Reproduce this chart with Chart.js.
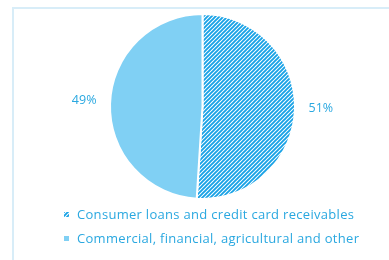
<!DOCTYPE html>
<html>
<head>
<meta charset="utf-8">
<script src="https://cdn.jsdelivr.net/npm/chart.js@4.4.0/dist/chart.umd.min.js"></script>
<style>
  html, body { margin: 0; padding: 0; background: #fff; overflow: hidden; }
  #frame { position: absolute; left: 12px; top: 7px; width: 400px; height: 270px;
           border-left: 2px solid #d8edf8; border-top: 2px solid #d8edf8; }
  #wrap { position: absolute; left: 0; top: 0; width: 389px; height: 260px; }
</style>
</head>
<body>
<div id="frame"></div>
<div id="wrap"><canvas id="pie" width="389" height="260"></canvas></div>
<script>
var categories = ['Consumer loans and credit card receivables', 'Commercial, financial, agricultural and other'];
var shares = [51, 49];
var shareLabels = ['51%', '49%'];

var textColor = '#2aa8e0';
var solidColor = '#80d0f4';
var stripeColor = '#18a2e6';

// diagonal hatch for the consumer slice
function makeHatch() {
    var c = document.createElement('canvas');
    c.width = 4; c.height = 4;
    var g = c.getContext('2d');
    g.fillStyle = '#ffffff';
    g.fillRect(0, 0, 4, 4);
    g.strokeStyle = stripeColor;
    g.lineWidth = 1.9;
    g.beginPath();
    g.moveTo(-1, 5); g.lineTo(5, -1);
    g.moveTo(-1, 1); g.lineTo(1, -1);
    g.moveTo(3, 5); g.lineTo(5, 3);
    g.stroke();
    return document.getElementById('pie').getContext('2d').createPattern(c, 'repeat');
}
var hatch = makeHatch();

var outsideLabels = {
    id: 'outsideLabels',
    afterDatasetsDraw: function (chart) {
        var ctx = chart.ctx;
        var meta = chart.getDatasetMeta(0);
        ctx.save();
        ctx.font = '12.5px "Open Sans"';
        ctx.fillStyle = textColor;
        ctx.textAlign = 'center';
        ctx.textBaseline = 'middle';
        meta.data.forEach(function (arc, i) {
            var mid = (arc.startAngle + arc.endAngle) / 2;
            var r = arc.outerRadius * 1.28;
            ctx.fillText(shareLabels[i], arc.x + Math.cos(mid) * r, arc.y + Math.sin(mid) * r - 2);
        });
        ctx.restore();
    }
};

var sideLegend = {
    id: 'sideLegend',
    afterDraw: function (chart) {
        var ctx = chart.ctx;
        var ds = chart.data.datasets[0];
        ctx.save();
        ctx.font = '13px "Open Sans"';
        ctx.letterSpacing = '0.3px';
        ctx.textBaseline = 'middle';
        chart.data.labels.forEach(function (lab, i) {
            var y = 215 + i * 24;
            ctx.fillStyle = ds.backgroundColor[i];
            ctx.fillRect(64, y - 3, 5, 5);
            ctx.fillStyle = textColor;
            ctx.fillText(lab, 77, y);
        });
        ctx.restore();
    }
};

new Chart(document.getElementById('pie'), {
    type: 'pie',
    data: {
        labels: categories,
        datasets: [{
            data: shares,
            backgroundColor: [hatch, solidColor],
            borderColor: '#ffffff',
            borderWidth: 2
        }]
    },
    options: {
        responsive: false,
        animation: false,
        layout: { padding: { left: 109, right: 93, top: 13, bottom: 60 } },
        plugins: {
            legend: { display: false },
            tooltip: { enabled: false }
        }
    },
    plugins: [outsideLabels, sideLegend]
});
</script>
</body>
</html>
